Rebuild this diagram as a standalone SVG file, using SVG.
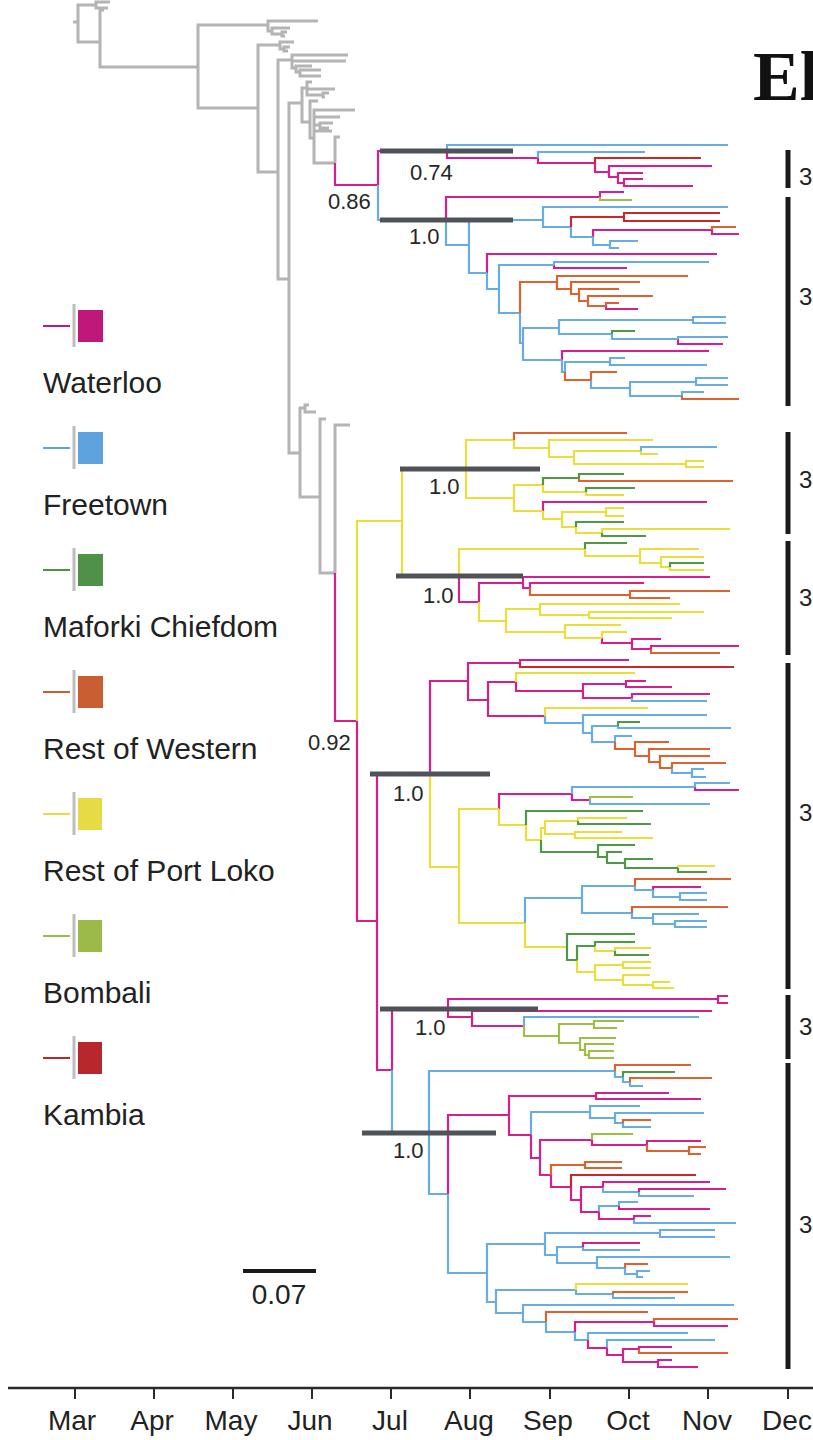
<svg xmlns="http://www.w3.org/2000/svg" width="813" height="1440" viewBox="0 0 813 1440">
<style>
  .br{fill:none;stroke-width:2.2;stroke-linejoin:miter;stroke-linecap:butt}
  .gy{fill:none;stroke:#b4b4b4;stroke-width:3}
  .m{stroke:#d41f8c}.b{stroke:#67ace3}.g{stroke:#4e9a44}.o{stroke:#dc6330}
  .y{stroke:#eadf3a}.l{stroke:#9dbf48}.r{stroke:#c8272b}
  .hpd{fill:none;stroke:#4f5258;stroke-width:5}
  .sup{font-family:"Liberation Sans",Arial,sans-serif;font-size:22px;fill:#262626}
  .leg{font-family:"Liberation Sans",Arial,sans-serif;font-size:30px;fill:#222}
  .mon{font-family:"Liberation Sans",Arial,sans-serif;font-size:28px;fill:#222;text-anchor:middle}
  .cl{fill:none;stroke:#1a1a1a;stroke-width:5}
  .cln{font-family:"Liberation Sans",Arial,sans-serif;font-size:24px;fill:#222}
</style>

<!-- background lineages -->
<g id="background-lineages">
  <path class="gy" d="M73 22 H78 M78 22 V5 H96 M78 22 V42 H100 M96 5 V2 H110 M96 5 V8 H108 M100 42 V10 H104 M100 42 V67 H198 M198 67 V25 H268 M198 67 V108 H258 M268 25 V21 H318 M268 25 V31 H272 M272 31 V28 H290 M272 31 V34 H282 M282 34 V32 H287 M282 34 V36 H285 M258 108 V45 H280 M258 108 V172 H278 M280 45 V42 H294 M280 45 V49 H284 M284 49 V47 H290 M284 49 V51 H288 M278 172 V60 H292 M278 172 V279 H289 M292 60 V55 H348 M292 60 V61 H346 M292 60 V68 H296 M296 68 V66 H312 M296 68 V72 H300 M300 72 V70 H321 M300 72 V76 H321 M289 279 V103 H302 M289 279 V453 H300 M302 103 V88 H307 M302 103 V122 H310 M307 88 V82 H312 M307 88 V89 H335 M307 88 V95 H323 M323 95 V93 H329 M323 95 V97 H325 M310 122 V101 H318 M310 122 V138 H314 M314 138 V110 H355 M314 138 V117 H340 M314 138 V125 H320 M314 138 V131 H332 M314 138 V163 H335 M320 125 V123 H333 M320 125 V128 H329 M335 163 V137 H340 M300 453 V408 H305 M300 453 V497 H320 M305 408 V405 H309 M305 408 V412 H316 M320 497 V419 H326 M320 497 V573 H335 M335 573 V425 H350"/>
</g>

<!-- connectors: coloured branches, one elbow per child -->
<g id="connectors">
  <g id="clade-upper">
    <path class="br m" d="M335 163 V185 H378 M378 185 V151 H447 M447 151 V158 H538 M538 158 V163 H595 M595 163 V172 H609 M609 172 V166 H712 M609 172 V177 H618 M618 177 V173 H643 M618 177 V183 H624 M624 183 V179 H643 M624 183 V186 H693 M446 220 V197 H600 M600 197 V192 H624 M593 237 V230 H712 M712 230 V234 H739 M487 273 V254 H717 M554 265 V268 H627 M606 306 V309 H638 M678 339 V344 H723 M562 360 V351 H709"/>
    <path class="br b" d="M378 185 V220 H446 M447 151 V145 H728 M538 158 V152 H645 M446 220 V245 H469 M469 245 V220 H543 M469 245 V273 H487 M543 220 V207 H728 M543 220 V227 H571 M571 227 V237 H593 M593 237 V245 H610 M610 245 V241 H638 M610 245 V248 H619 M487 273 V289 H499 M499 289 V265 H554 M499 289 V313 H520 M554 265 V262 H709 M520 313 V343 H523 M523 343 V328 H559 M523 343 V360 H562 M559 328 V320 H693 M559 328 V334 H612 M693 320 V317 H726 M693 320 V323 H726 M612 334 V339 H678 M678 339 V337 H728 M562 360 V372 H565 M565 372 V362 H610 M610 362 V358 H625 M610 362 V365 H707 M591 380 V388 H630 M630 388 V382 H696 M630 388 V396 H682 M696 382 V378 H728 M696 382 V385 H728 M682 396 V392 H704"/>
    <path class="br r" d="M595 163 V158 H701 M571 227 V217 H624 M624 217 V213 H720 M624 217 V221 H720"/>
    <path class="br l" d="M600 197 V200 H632"/>
    <path class="br o" d="M712 230 V227 H736 M520 313 V282 H557 M557 282 V276 H688 M557 282 V289 H571 M571 289 V282 H640 M571 289 V294 H579 M579 294 V289 H619 M579 294 V301 H588 M588 301 V296 H653 M588 301 V306 H606 M606 306 V303 H619 M565 372 V380 H591 M591 380 V372 H617 M682 396 V399 H739"/>
    <path class="br g" d="M612 334 V331 H635"/>
  </g>

  <g id="clade-port-loko">
    <path class="br m" d="M335 573 V721 H357 M543 511 V502 H707 M459 576 V602 H479 M479 602 V583 H523 M523 583 V577 H710 M523 583 V588 H530 M530 588 V583 H644 M602 638 V643 H632 M632 643 V639 H661 M632 643 V649 H651 M651 649 V646 H739"/>
    <path class="br y" d="M357 721 V521 H402 M402 521 V469 H466 M402 521 V576 H459 M466 469 V440 H514 M466 469 V498 H514 M514 440 V448 H549 M549 448 V440 H653 M549 448 V457 H574 M574 457 V451 H641 M574 457 V464 H686 M641 451 V454 H658 M686 464 V461 H704 M686 464 V467 H704 M514 498 V485 H543 M514 498 V511 H543 M543 485 V492 H586 M586 492 V495 H624 M543 511 V519 H562 M562 519 V512 H606 M562 519 V527 H576 M606 512 V508 H624 M606 512 V516 H624 M576 527 V533 H602 M602 533 V529 H730 M459 576 V549 H585 M585 549 V556 H640 M640 556 V549 H699 M640 556 V563 H661 M661 563 V557 H704 M661 563 V567 H670 M670 567 V570 H704 M479 602 V621 H506 M506 621 V609 H540 M506 621 V632 H565 M540 609 V604 H680 M540 609 V615 H589 M589 615 V612 H704 M589 615 V618 H672 M565 632 V625 H621 M565 632 V638 H602 M602 638 V632 H627"/>
    <path class="br o" d="M514 440 V433 H627 M579 478 V481 H733 M530 588 V595 H630 M630 595 V591 H730 M630 595 V598 H670 M651 649 V653 H720"/>
    <path class="br g" d="M543 485 V478 H579 M579 478 V474 H624 M586 492 V488 H635 M576 527 V522 H624 M602 533 V536 H646 M585 549 V543 H627 M670 567 V563 H704"/>
    <path class="br b" d="M641 451 V447 H717"/>
  </g>

  <g id="clade-middle">
    <path class="br m" d="M357 721 V921 H377 M377 921 V774 H430 M430 774 V681 H468 M468 681 V663 H520 M468 681 V700 H488 M520 663 V660 H629 M488 700 V682 H516 M488 700 V716 H545 M516 682 V691 H583 M583 691 V684 H626 M583 691 V698 H632 M626 684 V681 H646 M626 684 V687 H672 M632 698 V694 H710 M499 809 V794 H572 M572 794 V800 H590 M695 787 V790 H739 M653 890 V887 H701"/>
    <path class="br r" d="M520 663 V667 H734"/>
    <path class="br y" d="M430 774 V867 H459 M516 682 V673 H635 M545 716 V708 H648 M459 867 V809 H499 M459 867 V923 H525 M499 809 V825 H526 M526 825 V840 H541 M541 840 V828 H545 M545 828 V821 H578 M545 828 V834 H575 M578 821 V818 H627 M575 834 V832 H622 M575 834 V838 H653 M678 868 V866 H715 M525 923 V947 H567 M577 960 V972 H595 M595 946 V951 H615 M615 951 V948 H651 M595 972 V965 H623 M595 972 V980 H623 M623 965 V962 H651 M623 965 V968 H651 M623 980 V975 H650 M623 980 V985 H653 M653 985 V982 H670 M653 985 V988 H674"/>
    <path class="br b" d="M632 698 V701 H707 M545 716 V723 H583 M583 723 V715 H707 M583 723 V733 H592 M592 733 V726 H618 M592 733 V742 H615 M618 726 V728 H731 M615 742 V736 H632 M672 768 V773 H692 M692 773 V769 H704 M692 773 V777 H706 M572 794 V787 H695 M695 787 V783 H730 M590 800 V804 H710 M525 923 V898 H582 M582 898 V886 H635 M582 898 V913 H632 M635 886 V890 H653 M653 890 V897 H680 M680 897 V893 H707 M680 897 V900 H707 M632 913 V918 H653 M653 918 V914 H699 M653 918 V924 H675 M675 924 V921 H707 M675 924 V927 H707"/>
    <path class="br g" d="M618 726 V722 H640 M526 825 V811 H643 M541 840 V852 H598 M578 821 V824 H651 M598 852 V845 H635 M598 852 V857 H607 M607 857 V852 H622 M607 857 V863 H625 M625 863 V859 H653 M625 863 V868 H678 M678 868 V872 H707 M567 947 V934 H635 M567 947 V960 H577 M577 960 V946 H595 M595 946 V942 H635 M615 951 V955 H649"/>
    <path class="br o" d="M615 742 V749 H635 M635 749 V742 H669 M635 749 V756 H649 M649 756 V749 H710 M649 756 V762 H660 M660 762 V756 H710 M660 762 V768 H672 M672 768 V763 H726 M635 886 V879 H731 M632 913 V907 H728"/>
    <path class="br l" d="M590 800 V797 H633"/>
  </g>

  <g id="clade-bombali">
    <path class="br m" d="M377 921 V1070 H392 M392 1070 V1009 H448 M448 1009 V999 H718 M448 1009 V1017 H472 M718 999 V996 H728 M718 999 V1003 H728 M472 1017 V1011 H712 M472 1017 V1026 H524"/>
    <path class="br b" d="M524 1026 V1017 H699"/>
    <path class="br l" d="M524 1026 V1036 H559 M559 1036 V1024 H594 M559 1036 V1043 H580 M594 1024 V1021 H624 M594 1024 V1028 H617 M580 1043 V1038 H616 M580 1043 V1050 H585 M585 1050 V1044 H614 M585 1050 V1055 H589 M589 1055 V1051 H614 M589 1055 V1058 H614"/>
  </g>

  <g id="clade-lower">
    <path class="br b" d="M392 1070 V1133 H429 M429 1133 V1071 H615 M429 1133 V1194 H448 M615 1071 V1077 H623 M623 1077 V1082 H630 M630 1082 V1086 H643 M448 1194 V1273 H487 M531 1135 V1112 H590 M590 1112 V1106 H640 M590 1112 V1118 H615 M615 1118 V1113 H704 M615 1118 V1123 H623 M623 1123 V1127 H651 M603 1187 V1192 H639 M639 1192 V1196 H694 M599 1212 V1206 H619 M619 1206 V1202 H638 M634 1219 V1223 H736 M487 1273 V1244 H545 M487 1273 V1302 H496 M545 1244 V1233 H660 M545 1244 V1255 H557 M660 1233 V1230 H715 M660 1233 V1237 H715 M557 1255 V1247 H583 M557 1255 V1263 H597 M583 1247 V1250 H640 M597 1263 V1257 H730 M597 1263 V1268 H625 M625 1268 V1274 H637 M637 1274 V1271 H650 M637 1274 V1277 H643 M496 1302 V1290 H576 M496 1302 V1313 H523 M576 1290 V1294 H613 M613 1294 V1298 H675 M523 1313 V1305 H734 M523 1313 V1322 H546 M546 1322 V1332 H575 M575 1332 V1340 H588 M588 1340 V1333 H688 M607 1348 V1340 H715"/>
    <path class="br m" d="M448 1194 V1115 H509 M509 1115 V1096 H596 M509 1115 V1135 H531 M596 1096 V1093 H669 M596 1096 V1099 H701 M531 1135 V1158 H540 M540 1158 V1140 H592 M540 1158 V1175 H551 M592 1140 V1145 H647 M647 1145 V1141 H701 M551 1175 V1187 H571 M571 1187 V1200 H581 M581 1200 V1187 H603 M581 1200 V1212 H599 M603 1187 V1182 H710 M639 1192 V1189 H726 M599 1212 V1219 H634 M619 1206 V1209 H710 M634 1219 V1216 H651 M583 1247 V1243 H640 M575 1332 V1322 H654 M654 1322 V1326 H728 M588 1340 V1348 H607 M607 1348 V1355 H623 M623 1355 V1349 H639 M623 1355 V1362 H658 M639 1349 V1347 H672 M658 1362 V1360 H672 M658 1362 V1367 H698"/>
    <path class="br o" d="M615 1071 V1065 H691 M630 1082 V1078 H712 M623 1123 V1120 H651 M647 1145 V1151 H689 M689 1151 V1147 H706 M689 1151 V1154 H701 M551 1175 V1165 H585 M585 1165 V1162 H622 M585 1165 V1168 H622 M625 1268 V1264 H648 M613 1294 V1292 H688 M546 1322 V1312 H648 M654 1322 V1319 H738 M639 1349 V1353 H728"/>
    <path class="br g" d="M623 1077 V1072 H675"/>
    <path class="br l" d="M592 1140 V1134 H633"/>
    <path class="br r" d="M571 1187 V1175 H696"/>
    <path class="br y" d="M576 1290 V1284 H688"/>
  </g>
</g>

<!-- node age intervals and posterior supports -->
<g id="node-supports">
  <path class="hpd" d="M380 151 H513 M380 220 H513 M400 469 H540 M396 576 H523 M370 774 H490 M380 1009 H538 M362 1133 H496"/>
  <text class="sup" x="410" y="180">0.74</text>
  <text class="sup" x="328" y="209">0.86</text>
  <text class="sup" x="409" y="244">1.0</text>
  <text class="sup" x="429" y="494">1.0</text>
  <text class="sup" x="423" y="603">1.0</text>
  <text class="sup" x="308" y="750">0.92</text>
  <text class="sup" x="393" y="801">1.0</text>
  <text class="sup" x="415" y="1035">1.0</text>
  <text class="sup" x="393" y="1158">1.0</text>
</g>

<!-- cluster brackets -->
<g id="clusters">
  <path class="cl" d="M788 150 V188 M788 197 V406 M788 432 V534 M788 541 V655 M788 663 V989 M788 995 V1059 M788 1063 V1369"/>
  <text class="cln" x="799" y="185">3</text>
  <text class="cln" x="799" y="305">3</text>
  <text class="cln" x="799" y="488">3</text>
  <text class="cln" x="799" y="606">3</text>
  <text class="cln" x="799" y="821">3</text>
  <text class="cln" x="799" y="1035">3</text>
  <text class="cln" x="799" y="1233">3</text>
</g>

<!-- legend -->
<g id="legend-waterloo">
  <path d="M43 326 H70" stroke="#c0177b" stroke-width="2"/>
  <rect x="72.5" y="304" width="3" height="43" fill="#bdbdbd"/>
  <rect x="78" y="310" width="25" height="32" fill="#c0177b"/>
  <text class="leg" x="43" y="393">Waterloo</text>
</g>
<g id="legend-freetown">
  <path d="M43 448 H70" stroke="#5fa3dc" stroke-width="2"/>
  <rect x="72.5" y="426" width="3" height="43" fill="#bdbdbd"/>
  <rect x="78" y="432" width="25" height="32" fill="#5fa3dc"/>
  <text class="leg" x="43" y="515">Freetown</text>
</g>
<g id="legend-maforki">
  <path d="M43 570 H70" stroke="#4f9247" stroke-width="2"/>
  <rect x="72.5" y="548" width="3" height="43" fill="#bdbdbd"/>
  <rect x="78" y="554" width="25" height="32" fill="#4f9247"/>
  <text class="leg" x="43" y="637">Maforki Chiefdom</text>
</g>
<g id="legend-rest-western">
  <path d="M43 692 H70" stroke="#c95e32" stroke-width="2"/>
  <rect x="72.5" y="670" width="3" height="43" fill="#bdbdbd"/>
  <rect x="78" y="676" width="25" height="32" fill="#c95e32"/>
  <text class="leg" x="43" y="759">Rest of Western</text>
</g>
<g id="legend-rest-port-loko">
  <path d="M43 814 H70" stroke="#e6db45" stroke-width="2"/>
  <rect x="72.5" y="792" width="3" height="43" fill="#bdbdbd"/>
  <rect x="78" y="798" width="24" height="32" fill="#e6db45"/>
  <text class="leg" x="43" y="881">Rest of Port Loko</text>
</g>
<g id="legend-bombali">
  <path d="M43 936 H70" stroke="#9cba4a" stroke-width="2"/>
  <rect x="72.5" y="914" width="3" height="43" fill="#bdbdbd"/>
  <rect x="78" y="920" width="24" height="32" fill="#9cba4a"/>
  <text class="leg" x="43" y="1003">Bombali</text>
</g>
<g id="legend-kambia">
  <path d="M43 1058 H70" stroke="#b8272b" stroke-width="2"/>
  <rect x="72.5" y="1036" width="3" height="43" fill="#bdbdbd"/>
  <rect x="78" y="1042" width="24" height="32" fill="#b8272b"/>
  <text class="leg" x="43" y="1125">Kambia</text>
</g>

<!-- substitution scale bar -->
<g id="scale-bar">
  <path d="M243 1271 H316" stroke="#1a1a1a" stroke-width="4"/>
  <text class="mon" x="279" y="1304">0.07</text>
</g>

<!-- time axis -->
<g id="time-axis">
  <path d="M8 1388 H813" stroke="#2a2a2a" stroke-width="2.5"/>
  <path d="M75 1388 V1399 M154 1388 V1399 M233 1388 V1399 M312 1388 V1399 M391 1388 V1399 M470 1388 V1399 M550 1388 V1399 M629 1388 V1399 M708 1388 V1399 M788 1388 V1399" stroke="#2a2a2a" stroke-width="2"/>
  <text class="mon" x="72" y="1430">Mar</text>
  <text class="mon" x="152" y="1430">Apr</text>
  <text class="mon" x="231" y="1430">May</text>
  <text class="mon" x="310" y="1430">Jun</text>
  <text class="mon" x="390" y="1430">Jul</text>
  <text class="mon" x="469" y="1430">Aug</text>
  <text class="mon" x="548" y="1430">Sep</text>
  <text class="mon" x="628" y="1430">Oct</text>
  <text class="mon" x="707" y="1430">Nov</text>
  <text class="mon" x="787" y="1430">Dec</text>
</g>

<!-- heading -->
<text id="heading" x="753" y="100" font-family="'Liberation Serif','Times New Roman',serif" font-weight="bold" font-size="70" fill="#111">El</text>
</svg>
